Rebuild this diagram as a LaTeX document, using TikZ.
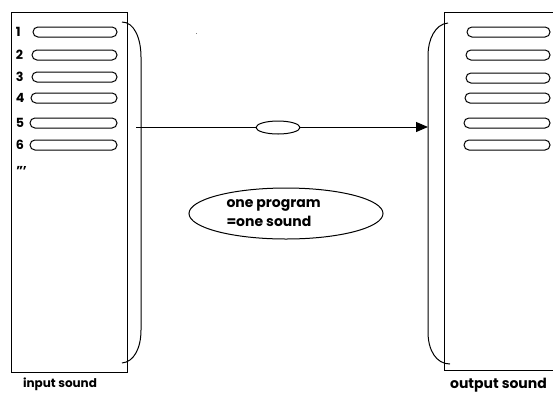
\documentclass[tikz,border=0pt]{standalone}
\usepackage{fontspec}
\setmainfont{Poppins}
\usetikzlibrary{arrows.meta,shapes.geometric}
\begin{document}
\begin{tikzpicture}[x=0.75pt,y=-0.75pt,
  line width=0.75pt,
  slot/.style={draw,rounded corners=3.7pt,minimum height=7.5pt,inner sep=0pt},
  num/.style={font=\bfseries\fontsize{9.5}{10}\selectfont,anchor=west,inner sep=0pt},
  caption/.style={font=\bfseries\fontsize{9}{10}\selectfont,inner sep=0pt},
  bracket/.style={line width=0.75pt}]
\useasboundingbox (0,0) rectangle (553,394);
\clip (0,0) rectangle (553,394);

% input rack
\node[draw,minimum width=87pt,minimum height=270pt,anchor=north west,inner sep=0pt] (inbox) at (11,12) {};
\foreach \i/\y/\xa in {1/32/33,2/55/32,3/77/32,4/98/31,5/123/30,6/145/30}{
  \node[slot,minimum width={(117-\xa)*0.75pt}] (in\i) at ({(\xa+117)/2},\y) {};
  \node[num] (n\i) at (15.5,\y) {\i};
}
\node[num] (dots) at (16,168) {,,,};
\node[caption] (inlabel) at (60,384) {input sound};

% bracket on the input side
\coordinate (lb1) at (122,22);
\coordinate (lb2) at (141,57);
\coordinate (lb3) at (141,330);
\coordinate (lb4) at (122,363);
\draw[bracket] (lb1) .. controls (134,22) and (141,38) .. (lb2) -- (lb3) .. controls (141,348) and (134,362) .. (lb4);

% output rack
\node[draw,minimum width=150pt,minimum height=268.5pt,anchor=north west,inner sep=0pt] (outbox) at (444,12) {};
\foreach \i/\y/\xa in {1/32/467,2/55/466,3/78/466,4/98/465,5/123/464,6/145/464}{
  \node[slot,minimum width={(550-\xa)*0.75pt}] (out\i) at ({(\xa+550)/2},\y) {};
}
\node[caption,font=\bfseries\fontsize{10.5}{12}\selectfont] (outlabel) at (498.5,385.5) {output sound};

% bracket on the output side
\coordinate (rb1) at (448,23);
\coordinate (rb2) at (428,55);
\coordinate (rb3) at (428,332);
\coordinate (rb4) at (450,364);
\draw[bracket] (rb1) .. controls (435,24) and (428,40) .. (rb2) -- (rb3) .. controls (428,350) and (436,364) .. (rb4);

% transfer arrow with its token
\coordinate (src) at (136,127);
\coordinate (dst) at (428,127);
\draw[-{Triangle[length=9pt,width=7.5pt]}] (src) -- (dst);
\node[draw,ellipse,minimum width=33pt,minimum height=9.75pt,inner sep=0pt,fill=white] (token) at (278,127.5) {};

% note
\node[draw,ellipse,minimum width=145.5pt,minimum height=38.25pt,inner sep=0pt] (note) at (286,213.5) {};
\node[caption,align=left,anchor=west,font=\bfseries\fontsize{10.5}{14.25}\selectfont] (notetext) at (226,213.5) {one program\\=one sound};

% speck
\fill[gray] (195.5,32.5) rectangle (196.8,33.8);
\end{tikzpicture}
\end{document}
